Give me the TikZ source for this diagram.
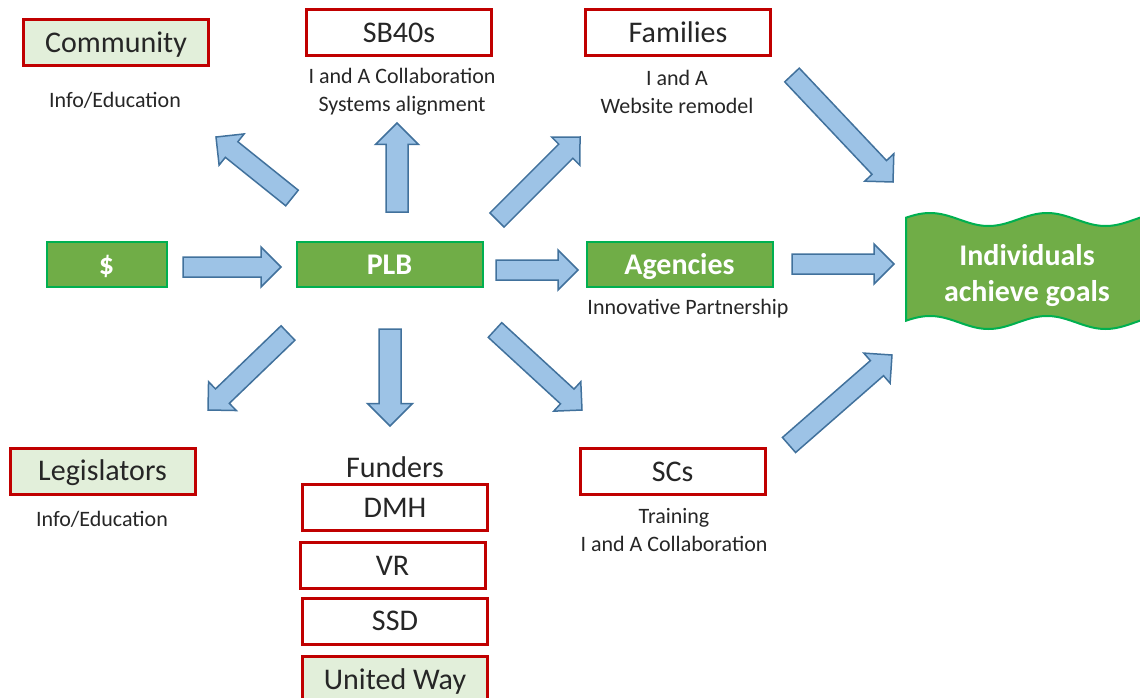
\documentclass[tikz,border=0pt]{standalone}
\usepackage{fontspec}
\setmainfont{Carlito}
\usetikzlibrary{calc}
\definecolor{redb}{HTML}{C00000}
\definecolor{lgreen}{HTML}{E2EFDA}
\definecolor{gfill}{HTML}{70AD47}
\definecolor{gline}{HTML}{00B050}
\definecolor{afill}{HTML}{9DC3E6}
\definecolor{aline}{HTML}{41719C}
\definecolor{txt}{HTML}{262626}
\tikzset{
 redbox/.style={draw=redb, line width=3pt, fill=white, minimum width=185pt, minimum height=46pt, inner sep=0pt, font=\fontsize{30}{36}\selectfont, text=txt, text height=19pt, text depth=0pt},
 lgbox/.style={redbox, fill=lgreen},
 gbox/.style={draw=gline, line width=2pt, fill=gfill, minimum height=45pt, inner sep=0pt, font=\fontsize{30}{36}\selectfont\bfseries, text=white, text height=19pt, text depth=0pt},
 note/.style={font=\fontsize{22}{28}\selectfont, text=txt, align=center, inner sep=0pt},
 barrow/.style={draw=aline, fill=afill, line width=1.5pt, line join=miter},
}
% #1 tail coordinate, #2 tip coordinate, #3 head half width, #4 shaft half width
\newcommand{\blockarrow}[4]{%
  \draw[barrow] let \p1=(#1), \p2=(#2),
     \n1={atan2(\y2-\y1,\x2-\x1)}, \n2={veclen(\x2-\x1,\y2-\y1)},
     \n3={\n2-#3}, \n4={\n1+90}, \n5={\n1-90} in
   ($(\p1)+(\n4:#4pt)$) -- ($(\p1)+(\n1:\n3)+(\n4:#4pt)$) -- ($(\p1)+(\n1:\n3)+(\n4:#3pt)$)
   -- (\p2) -- ($(\p1)+(\n1:\n3)+(\n5:#3pt)$) -- ($(\p1)+(\n1:\n3)+(\n5:#4pt)$)
   -- ($(\p1)+(\n5:#4pt)$) -- cycle;
}
\begin{document}
\begin{tikzpicture}[x=1pt,y=-1pt]
\useasboundingbox (0,0) rectangle (1140,698);
\clip (0,0) rectangle (1140,698);

% top row
\node[lgbox] (community) at (116,43) {Community};
\node[note] (communityn) at (115,100) {Info/Education};
\node[redbox] (sb40) at (399,33) {SB40s};
\node[note] (sb40n) at (402,92) {I and A Collaboration\\Systems alignment};
\node[redbox] (families) at (678,33) {Families};
\node[note] (familiesn) at (677,92) {I and A\\Website remodel};

% middle row
\node[gbox, minimum width=120pt] (dollar) at (106.5,264.5) {\$};
\node[gbox, minimum width=186pt] (plb) at (389.5,264.5) {PLB};
\node[gbox, minimum width=186pt] (agencies) at (679.5,264.5) {Agencies};
\node[note] (agenciesn) at (688,309) {Innovative Partnership};

% wave
\draw[draw=gline, line width=2pt, fill=gfill]
  plot[domain=906:1143, samples=90, smooth] (\x,{219.5-6.5*cos(3.07692*(\x-930))})
  -- plot[domain=1143:906, samples=90, smooth] (\x,{322.5-6.5*cos(3.07692*(\x-930))}) -- cycle;
\node[align=center, font=\fontsize{30}{36}\selectfont\bfseries, text=white, inner sep=0pt] (ind) at (1027,276) {Individuals\\achieve goals};

% bottom
\node[lgbox] (legis) at (102.5,471) {Legislators};
\node[note] (legisn) at (102,519) {Info/Education};
\node[font=\fontsize{30}{36}\selectfont, text=txt, inner sep=0pt] (funders) at (395,467) {Funders};
\node[redbox] (dmh) at (395,507.5) {DMH};
\node[redbox] (vr) at (392.5,565.5) {VR};
\node[redbox] (ssd) at (395,621) {SSD};
\node[lgbox, minimum height=48pt] (uw) at (395,680) {United Way};
\node[redbox] (scs) at (672.5,471.5) {SCs};
\node[note] (scsn) at (674,530) {Training\\I and A Collaboration};

% arrow end points
\coordinate (a1s) at (183,267);  \coordinate (a1e) at (281,267);
\coordinate (a2s) at (496,270);  \coordinate (a2e) at (578,270);
\coordinate (a3s) at (792,264);  \coordinate (a3e) at (894,264);
\coordinate (a4s) at (397,212);  \coordinate (a4e) at (397,123);
\coordinate (a5s) at (390,329);  \coordinate (a5e) at (390,426);
\coordinate (a6s) at (292,198);  \coordinate (a6e) at (216,137);
\coordinate (a7s) at (497,220);  \coordinate (a7e) at (580,137);
\coordinate (a8s) at (288,333);  \coordinate (a8e) at (208,410);
\coordinate (a9s) at (495,330);  \coordinate (a9e) at (582,410);
\coordinate (a10s) at (792,75);  \coordinate (a10e) at (893,182);
\coordinate (a11s) at (789,445); \coordinate (a11e) at (892,355);

\blockarrow{a1s}{a1e}{20}{10}
\blockarrow{a2s}{a2e}{20}{10}
\blockarrow{a3s}{a3e}{20}{10}
\blockarrow{a4s}{a4e}{21.5}{11}
\blockarrow{a5s}{a5e}{22.5}{11}
\blockarrow{a6s}{a6e}{20}{10}
\blockarrow{a7s}{a7e}{20}{10}
\blockarrow{a8s}{a8e}{20}{10}
\blockarrow{a9s}{a9e}{20}{10}
\blockarrow{a10s}{a10e}{20}{10}
\blockarrow{a11s}{a11e}{20}{10}
\end{tikzpicture}
\end{document}
